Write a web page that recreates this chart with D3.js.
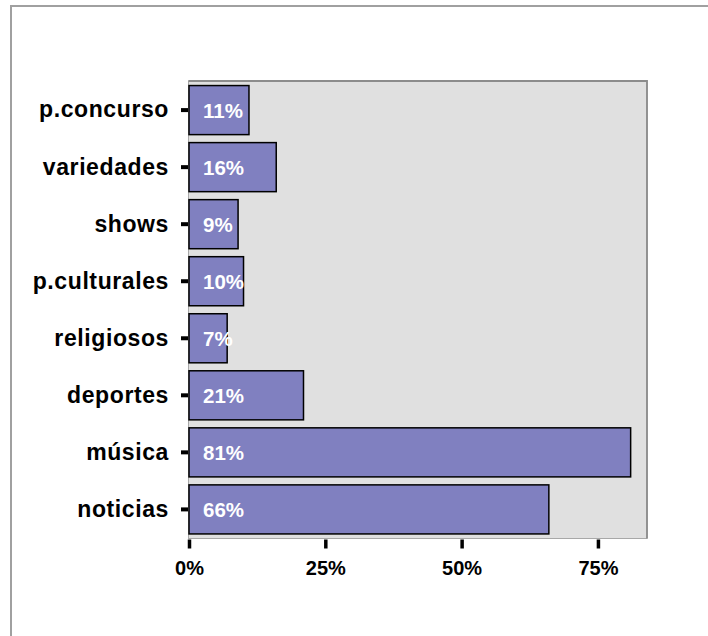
<!DOCTYPE html>
<html>
<head>
<meta charset="utf-8">
<script src="https://cdn.jsdelivr.net/npm/d3@7"></script>
<style>
  html, body { margin: 0; padding: 0; background: #fff; }
  svg { display: block; }
  text { font-family: Arial, "Liberation Sans", sans-serif; font-weight: bold; }
</style>
</head>
<body>
<svg id="chart" width="708" height="636"></svg>
<script>
// Programme types (top to bottom) and share of respondents, in percent
const categories = ["p.concurso", "variedades", "shows", "p.culturales", "religiosos", "deportes", "música", "noticias"];
const values = [11, 16, 9, 10, 7, 21, 81, 66];
const xTicks = [0, 25, 50, 75];
const xTickLabels = ["0%", "25%", "50%", "75%"];

const svg = d3.select("#chart");

// outer frame
svg.append("rect")
  .attr("x", 11).attr("y", 6)
  .attr("width", 720).attr("height", 660)
  .attr("fill", "#fff")
  .attr("stroke", "#a0a0a0")
  .attr("stroke-width", 2);

const plot = { left: 188.5, top: 81, right: 647, bottom: 538.5 };

const x = d3.scaleLinear().domain([0, 84]).range([189, plot.right]);
const y = d3.scaleBand().domain(categories)
  .range([plot.top, plot.bottom])
  .paddingInner(0.14).paddingOuter(0.08);

// plot background
svg.append("rect")
  .attr("x", plot.left).attr("y", plot.top)
  .attr("width", plot.right - plot.left).attr("height", plot.bottom - plot.top)
  .attr("fill", "#e0e0e0")
  .attr("stroke", "#a8a8a8")
  .attr("stroke-width", 1);
// darker top and right edges
svg.append("path")
  .attr("d", `M${plot.left},${plot.top} H${plot.right} V${plot.bottom}`)
  .attr("fill", "none")
  .attr("stroke", "#8c8c8c")
  .attr("stroke-width", 1.8);

// bars
svg.append("g").selectAll("rect")
  .data(values)
  .join("rect")
  .attr("x", x(0))
  .attr("y", (d, i) => y(categories[i]))
  .attr("width", d => x(d) - x(0))
  .attr("height", y.bandwidth())
  .attr("fill", "#8080c0")
  .attr("stroke", "#000")
  .attr("stroke-width", 1.5);

// value labels inside bars
svg.append("g").selectAll("text")
  .data(values)
  .join("text")
  .attr("x", x(0) + 14)
  .attr("y", (d, i) => y(categories[i]) + y.bandwidth() / 2 + 7.5)
  .attr("fill", "#fff")
  .attr("font-size", 20.5)
  .text(d => d + "%");

// category axis
const yAxis = svg.append("g")
  .attr("transform", `translate(${x(0) - 1},0)`)
  .call(d3.axisLeft(y).tickSize(7).tickPadding(12));
yAxis.select(".domain").remove();
yAxis.selectAll(".tick line").attr("stroke", "#000").attr("stroke-width", 4);
yAxis.selectAll(".tick text")
  .attr("font-size", 23)
  .attr("letter-spacing", "0.6px")
  .attr("fill", "#000")
  .attr("dy", "0.32em");

// value axis
const xAxis = svg.append("g")
  .attr("transform", `translate(0,${plot.bottom + 1})`)
  .call(d3.axisBottom(x).tickValues(xTicks)
    .tickFormat((d, i) => xTickLabels[i])
    .tickSize(9).tickPadding(12));
xAxis.select(".domain").remove();
xAxis.selectAll(".tick line").attr("stroke", "#000").attr("stroke-width", 3.5);
xAxis.selectAll(".tick text")
  .attr("font-size", 20)
  .attr("fill", "#000");
</script>
</body>
</html>
